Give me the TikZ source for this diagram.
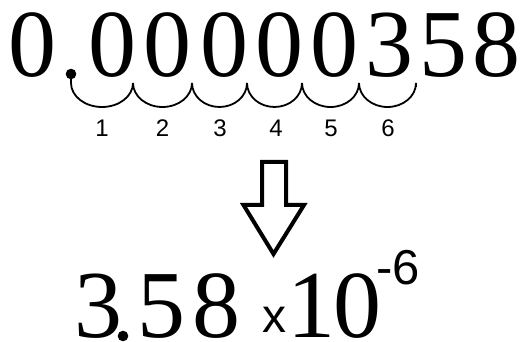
\documentclass[tikz,border=0pt]{standalone}
\usepackage{fontspec}
\newfontfamily\lserif{Liberation Serif}
\newfontfamily\lsans{Liberation Sans}
\begin{document}
\begin{tikzpicture}[x=1pt,y=1pt,
  dig/.style={inner sep=0pt,anchor=base,scale=1.6,transform shape,font=\lserif\fontsize{60}{60}\selectfont},
  cnt/.style={inner sep=0pt,font=\lsans\fontsize{24}{24}\selectfont},
  hop/.style={line width=1.8pt},
  dotc/.style={fill=black}]
\useasboundingbox (0,0) rectangle (530,342);
% top number
\node[dig] (t0) at (32.5,265) {0};
\fill[dotc] (71,268) circle (5.3);
\coordinate (p0) at (71,265);
\node[dig] (t1) at (112.5,265) {0};
\node[dig] (t2) at (167.5,265) {0};
\node[dig] (t3) at (224.5,265) {0};
\node[dig] (t4) at (279.5,265) {0};
\node[dig] (t5) at (334.5,265) {0};
\node[dig] (t6) at (389,265) {3};
\node[dig] (t7) at (443,265) {5};
\node[dig] (t8) at (496.5,265) {8};
% hops
\draw[hop] (p0) -- (71,259) arc[start angle=180,end angle=360,x radius=31,y radius=24];
\draw[hop] (133,259) arc[start angle=180,end angle=360,x radius=29.5,y radius=24];
\draw[hop] (192,259) arc[start angle=180,end angle=360,x radius=27.5,y radius=24];
\draw[hop] (247,259) arc[start angle=180,end angle=360,x radius=27.5,y radius=24];
\draw[hop] (302,259) arc[start angle=180,end angle=360,x radius=28.5,y radius=24];
\draw[hop] (359,259) arc[start angle=180,end angle=360,x radius=28.5,y radius=24] -- (416,255);
% counts
\node[cnt] (c1) at (102,213.5) {1};
\node[cnt] (c2) at (162.5,213.5) {2};
\node[cnt] (c3) at (220,213.5) {3};
\node[cnt] (c4) at (276,213.5) {4};
\node[cnt] (c5) at (331,213.5) {5};
\node[cnt] (c6) at (388,213.5) {6};
% arrow
\draw[line width=4pt,fill=white,miter limit=10]
  (262,180) -- (286,180) -- (286,137) -- (304,137) -- (273.5,88)
  -- (243.5,137) -- (262,137) -- cycle;
% bottom
\node[dig] (b3) at (98.5,4.5) {3};
\fill[dotc] (123,6) circle (5.3);
\node[dig] (b5) at (161,4.5) {5};
\node[dig] (b8) at (216.5,4.5) {8};
\node[inner sep=0pt,anchor=base,font=\lsans\fontsize{48}{48}\selectfont] (bx) at (274,9) {x};
\node[dig] (b1) at (311.5,4.5) {1};
\node[dig] (b0) at (357.5,4.5) {0};
\node[inner sep=0pt,anchor=base west,font=\lsans\fontsize{49}{49}\selectfont] (be) at (376,57) {-6};
\end{tikzpicture}
\end{document}
